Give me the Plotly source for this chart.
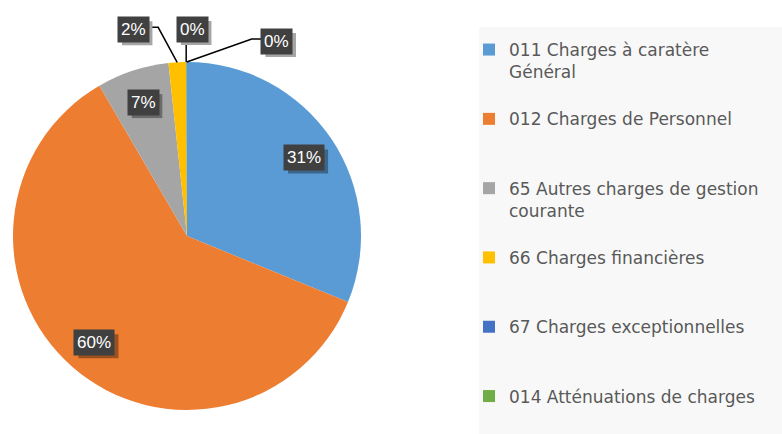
import math
import plotly.graph_objects as go

# ---- data ----
categories = [
    "011 Charges à caratère<br>Général",
    "012 Charges de Personnel",
    "65 Autres charges de gestion<br>courante",
    "66 Charges financières",
    "67 Charges exceptionnelles",
    "014 Atténuations de charges",
]
values = [31.2, 60.4, 6.7, 1.6, 0.05, 0.05]
colors = ["#5B9BD5", "#ED7D31", "#A5A5A5", "#FFC000", "#4472C4", "#70AD47"]

W, H = 782, 434
dom_x = [13 / W, 361 / W]
dom_y = [24 / H, 372 / H]

# pie geometry in pixels (derived from domain)
cx = (dom_x[0] + dom_x[1]) / 2 * W
cy = H - (dom_y[0] + dom_y[1]) / 2 * H
R = min((dom_x[1] - dom_x[0]) * W, (dom_y[1] - dom_y[0]) * H) / 2

# legend labels padded to 3 lines so entries are evenly spaced (last one not padded)
legend_labels = []
for k, c in enumerate(categories):
    n = c.count("<br>") + 1
    pad = 0 if k == len(categories) - 1 else 3 - n
    legend_labels.append(c + "<br> " * pad)

fig = go.Figure()
fig.add_trace(go.Pie(
    labels=legend_labels,
    values=values,
    sort=False,
    direction="clockwise",
    rotation=0,
    marker=dict(colors=colors, line=dict(width=0)),
    textinfo="none",
    hoverinfo="percent",
    domain=dict(x=dom_x, y=dom_y),
))

total = sum(values)
annotations = []
lines = []
shadows = []

# legend background panel
panel = dict(type="rect", xref="paper", yref="paper",
             x0=479 / W, x1=1, y0=0, y1=1 - 27 / H,
             fillcolor="#F8F8F8", line=dict(width=0), layer="below")

# outer label offsets (pixels, box centre relative to slice edge point) for tiny slices
outer_offsets = {3: (-44, -33, "h"), 4: (6, -33, "v"), 5: (90, -21, "h")}
inner_radius = 0.81
FS = 17

def to_paper(px, py):
    return px / W, 1 - py / H

label_font = dict(family="Liberation Sans, Arial", size=FS, color="white")
cum = 0.0
for i, v in enumerate(values):
    frac = v / total
    mid = 2 * math.pi * (cum + frac / 2)
    cum += frac
    txt = f"{round(frac * 100)}%"
    if i in outer_offsets:
        ex = cx + R * math.sin(mid)
        ey = cy - R * math.cos(mid)
        dx, dy, kind = outer_offsets[i]
        bx, by = ex + dx, ey + dy
        if kind == "h":
            side = -1 if dx < 0 else 1
            edge_x = bx - side * 15
            elbow_x = edge_x - side * 10
            pts = [(ex, ey), (elbow_x, by - 2), (edge_x, by - 2)]
        else:
            pts = [(ex, ey), (ex, by + 12)]
        path = "M " + " L ".join(f"{p[0] / W} {1 - p[1] / H}" for p in pts)
        lines.append(dict(type="path", xref="paper", yref="paper", path=path,
                          line=dict(color="black", width=1.5), layer="above"))
        shadow_bg = "#A6A6A6"
    else:
        bx = cx + inner_radius * R * math.sin(mid)
        by = cy - inner_radius * R * math.cos(mid)
        shadow_bg = "rgba(0,0,0,0.35)"
    # drop shadow box (approximate text box size), offset down-right
    ndig = len(txt) - 1
    bw = FS * (0.556 * ndig + 0.889) + 6
    bh = 24
    sx, sy = bx + 4, by + 4
    shadows.append(dict(type="rect", xref="paper", yref="paper",
                        x0=(sx - bw / 2) / W, x1=(sx + bw / 2) / W,
                        y0=1 - (sy + bh / 2) / H, y1=1 - (sy - bh / 2) / H,
                        fillcolor=shadow_bg, line=dict(width=0), layer="above"))
    px_, py_ = to_paper(bx, by)
    annotations.append(dict(x=px_, y=py_, xref="paper", yref="paper", text=txt,
                            showarrow=False, font=label_font,
                            xanchor="center", yanchor="middle",
                            bgcolor="#404040", borderpad=3))

fig.update_layout(
    width=W, height=H,
    margin=dict(l=0, r=0, t=0, b=0),
    paper_bgcolor="white",
    plot_bgcolor="white",
    shapes=[panel] + lines + shadows,
    annotations=annotations,
    legend=dict(
        x=(509 - 40) / W, xanchor="left",
        y=1 - 32 / H, yanchor="top",
        valign="top",
        bgcolor="rgba(0,0,0,0)",
        font=dict(family="DejaVu Sans", size=17, color="#595959"),
        traceorder="normal",
    ),
)

fig.write_html("out.html")
